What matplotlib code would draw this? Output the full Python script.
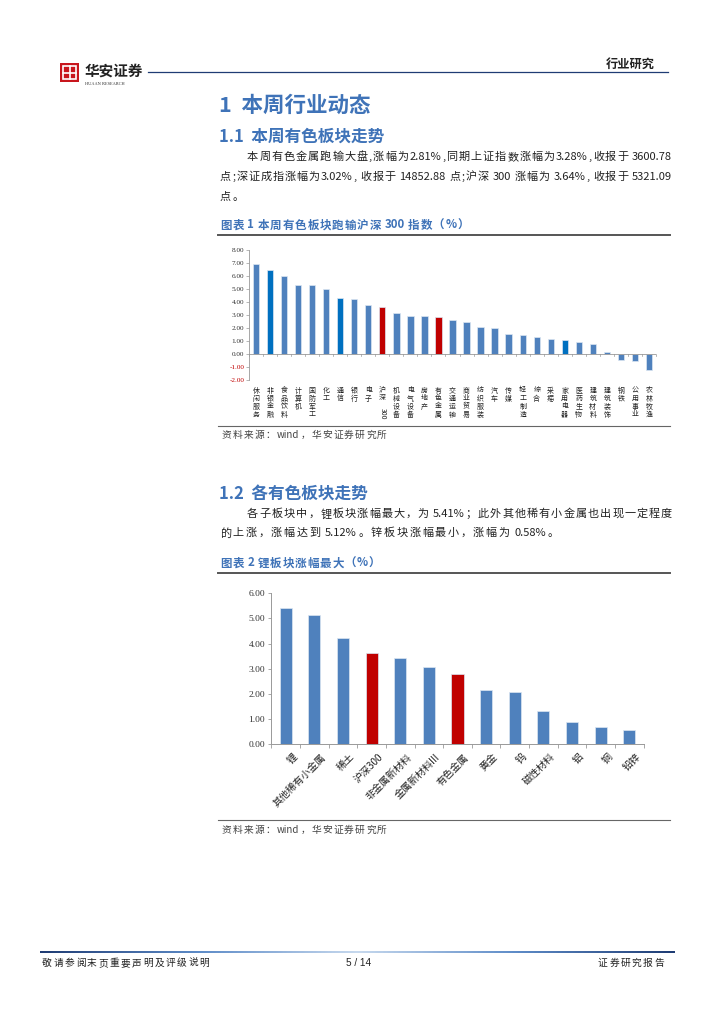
import re
import numpy as np
import matplotlib
matplotlib.use("Agg")
import matplotlib.pyplot as plt
from matplotlib.patches import Rectangle
from matplotlib.colors import LinearSegmentedColormap

plt.rcParams['font.family'] = ['Noto Sans CJK SC', 'DejaVu Sans']

W, H = 724, 1024

# chart 1 data
ind_names = ['休闲服务', '非银金融', '食品饮料', '计算机', '国防军工', '化工', '通信', '银行', '电子',
             '沪深300', '机械设备', '电气设备', '房地产', '有色金属', '交通运输', '商业贸易', '纺织服装',
             '汽车', '传媒', '轻工制造', '综合', '采掘', '家用电器', '医药生物', '建筑材料', '建筑装饰',
             '钢铁', '公用事业', '农林牧渔']
ind_values = [6.95, 6.47, 6.01, 5.32, 5.27, 5.01, 4.30, 4.22, 3.79, 3.64, 3.17, 2.94, 2.89, 2.81,
              2.63, 2.48, 2.07, 1.97, 1.56, 1.43, 1.30, 1.18, 1.10, 0.92, 0.79, 0.13, -0.46, -0.54, -1.23]
dark_names = ['非银金融', '通信', '家用电器']
red_names = ['沪深300', '有色金属']
y1_ticks = [-2, -1, 0, 1, 2, 3, 4, 5, 6, 7, 8]

# chart 2 data
sub_names = ['锂', '其他稀有小金属', '稀土', '沪深300', '非金属新材料', '金属新材料III', '有色金属',
             '黄金', '钨', '磁性材料', '铝', '铜', '铅锌']
sub_values = [5.41, 5.12, 4.24, 3.64, 3.44, 3.08, 2.81, 2.15, 2.09, 1.31, 0.89, 0.69, 0.58]
y2_ticks = [0, 1, 2, 3, 4, 5, 6]

BLUE = '#4F81BD'
DARK = '#0070C0'
RED = '#C00000'
HEAD = '#3F73B8'
INK = '#222222'


def px(x, y):
    return x / W, 1 - y / H


def ftext(x, y, s, **kw):
    fx, fy = px(x, y)
    kw.setdefault('va', 'center')
    return fig.text(fx, fy, s, **kw)


def spaced(x0, y, s, fontsize, gap=1.0, x1=None, **kw):
    # lay out a line token by token; stretch to x1 if given (justified line)
    toks = re.findall(r'[A-Za-z0-9.%]+|\s|\S', s)
    widths = []
    for t in toks:
        if t.isspace():
            widths.append(fontsize * 0.2)
            continue
        tt = ftext(0, -50, t, fontsize=fontsize, **kw)
        widths.append(tt.get_window_extent(rend).width)
        tt.remove()
    if x1 is not None and len(toks) > 1:
        gap = (x1 - x0 - sum(widths)) / (len(toks) - 1)
    x = x0
    for t, w in zip(toks, widths):
        if not t.isspace():
            ftext(x, y, t, fontsize=fontsize, ha='left', **kw)
        x += w + gap


def hline(x0, x1, y, color='#555555', lw=1.0):
    fig.add_artist(plt.Line2D([x0 / W, x1 / W], [1 - y / H, 1 - y / H], color=color, lw=lw))


def add_ax(left, top, right, bottom):
    return fig.add_axes([left / W, 1 - bottom / H, (right - left) / W, (bottom - top) / H])


fig = plt.figure(figsize=(W / 100, H / 100), dpi=100)
rend = fig.canvas.get_renderer()

# header
logo = add_ax(60, 63, 79, 82)
logo.set_xlim(0, 1)
logo.set_ylim(0, 1)
logo.axis('off')
logo.add_patch(Rectangle((0, 0), 1, 1, color='#C8161D'))
logo.add_patch(Rectangle((0.18, 0.18), 0.64, 0.64, fill=False, ec='white', lw=1.2))
logo.plot([0.5, 0.5], [0.18, 0.82], color='white', lw=1.2)
logo.plot([0.18, 0.82], [0.5, 0.5], color='white', lw=1.2)
ftext(85, 71, '华安证券', fontsize=10.5, fontweight='bold', color=INK, ha='left')
ftext(85, 84, 'HUAAN RESEARCH', fontsize=3.2, color='#333333', ha='left', family='Liberation Serif')
hline(148, 668, 72, color='#1F3C74', lw=0.9)
ftext(655, 64, '行业研究', fontsize=8.8, fontweight='bold', color=INK, ha='right')

# section 1
ftext(219, 105, '1  本周行业动态', fontsize=15.5, fontweight='bold', color=HEAD, ha='left')
ftext(219, 137, '1.1  本周有色板块走势', fontsize=12, fontweight='bold', color=HEAD, ha='left')
spaced(247, 157, '本周有色金属跑输大盘,涨幅为2.81%,同期上证指数涨幅为3.28%,收报于 3600.78',
       8.0, x1=672, color=INK)
spaced(220, 177, '点;深证成指涨幅为3.02%, 收报于 14852.88 点;沪深 300 涨幅为 3.64%, 收报于 5321.09',
       8.0, x1=672, color=INK)
spaced(220, 197, '点。', 8.0, gap=1.6, color=INK)
spaced(220, 225, '图表 1 本周有色板块跑输沪深 300 指数（%）', 8.3, gap=0.9,
       fontweight='bold', color=HEAD)
hline(218, 670, 235, color='#555555', lw=1.4)

ax1 = add_ax(249, 250, 656, 380)
x1 = np.arange(len(ind_names))
c1 = [RED if n in red_names else DARK if n in dark_names else BLUE for n in ind_names]
ax1.bar(x1, ind_values, width=0.45, color=c1, edgecolor='#DCE6F2', linewidth=0.5)
ax1.set_xlim(-0.5, len(ind_names) - 0.5)
ax1.set_ylim(-2, 8)
ax1.set_yticks(y1_ticks)
ax1.set_yticklabels([f'{v:.2f}' for v in y1_ticks], family='Liberation Serif', fontsize=5.2)
for lab, v in zip(ax1.get_yticklabels(), y1_ticks):
    lab.set_color(RED if v < 0 else '#333333')
ax1.tick_params(axis='y', length=2, width=0.5, color='#999999', pad=1.5)
ax1.set_xticks([])
for s in ['top', 'right', 'bottom']:
    ax1.spines[s].set_visible(False)
ax1.spines['left'].set_color('#999999')
ax1.spines['left'].set_linewidth(0.6)
ax1.axhline(0, color='#999999', lw=0.6)
for b in np.arange(-0.5, len(ind_names), 1.0):
    ax1.plot([b, b], [0, -0.12], color='#999999', lw=0.5, clip_on=False)
for xi, n in zip(x1, ind_names):
    if n == '沪深300':
        ax1.text(xi, -0.05, '沪\n深', transform=ax1.get_xaxis_transform(), ha='center', va='top',
                 fontsize=5.0, linespacing=1.0, color=INK)
        ax1.text(xi, -0.215, '300', transform=ax1.get_xaxis_transform(), ha='center', va='top',
                 rotation=270, fontsize=5.0, color=INK)
        continue
    ax1.text(xi, -0.05, '\n'.join(n), transform=ax1.get_xaxis_transform(), ha='center', va='top',
             fontsize=5.0, linespacing=1.0, color=INK)

hline(218, 670, 425.5, color='#666666', lw=0.8)
spaced(222, 435, '资料来源：wind，华安证券研究所', 7.0, gap=1.2, color='#444444')

# section 2
ftext(219, 494, '1.2  各有色板块走势', fontsize=12, fontweight='bold', color=HEAD, ha='left')
spaced(247, 514, '各子板块中，锂板块涨幅最大，为 5.41%；此外其他稀有小金属也出现一定程度',
       8.0, x1=672, color=INK)
spaced(220, 533, '的上涨，涨幅达到 5.12%。锌板块涨幅最小，涨幅为 0.58%。', 8.0, gap=1.6, color=INK)
spaced(220, 563, '图表 2 锂板块涨幅最大（%）', 8.3, gap=0.9, fontweight='bold', color=HEAD)
hline(218, 670, 573, color='#555555', lw=1.4)

ax2 = add_ax(271.4, 593.3, 643.6, 744.3)
x2 = np.arange(len(sub_names))
c2 = [RED if n in red_names else BLUE for n in sub_names]
ax2.bar(x2, sub_values, width=0.42, color=c2, edgecolor='#DCE6F2', linewidth=0.5)
ax2.set_xlim(-0.5, len(sub_names) - 0.5)
ax2.set_ylim(0, 6)
ax2.set_yticks(y2_ticks)
ax2.set_yticklabels([f'{v:.2f}' for v in y2_ticks], family='Liberation Serif', fontsize=6.8,
                    color='#333333')
ax2.tick_params(axis='y', length=2.5, width=0.6, color='#999999', pad=2)
ax2.set_xticks(np.arange(-0.5, len(sub_names), 1.0))
ax2.set_xticklabels([])
ax2.tick_params(axis='x', length=3, width=0.6, color='#999999', direction='out')
for s in ['top', 'right']:
    ax2.spines[s].set_visible(False)
for s in ['left', 'bottom']:
    ax2.spines[s].set_color('#999999')
    ax2.spines[s].set_linewidth(0.7)
for xi, n in zip(x2, sub_names):
    ax2.text(xi + 0.22, -0.3, n, ha='right', va='top', rotation=45, rotation_mode='anchor',
             fontsize=7.2, color=INK)

hline(218, 670, 820, color='#666666', lw=0.8)
spaced(222, 830, '资料来源：wind，华安证券研究所', 7.0, gap=1.2, color='#444444')

# footer
gax = add_ax(40, 950.5, 675, 953.5)
grad = LinearSegmentedColormap.from_list('g', ['#1F3C74', '#5E8CC8', '#C7D9EE', '#5E8CC8', '#1F3C74'])
gax.imshow(np.linspace(0, 1, 400).reshape(1, -1), aspect='auto', cmap=grad)
gax.axis('off')
spaced(42, 963, '敬请参阅末页重要声明及评级说明', 7.0, gap=1.5, color=INK)
ftext(359, 963, '5 / 14', fontsize=7.2, color=INK, ha='center', family='Liberation Sans')
spaced(598, 963, '证券研究报告', 7.0, gap=1.5, color=INK)

fig.savefig('out.png', dpi=100)
